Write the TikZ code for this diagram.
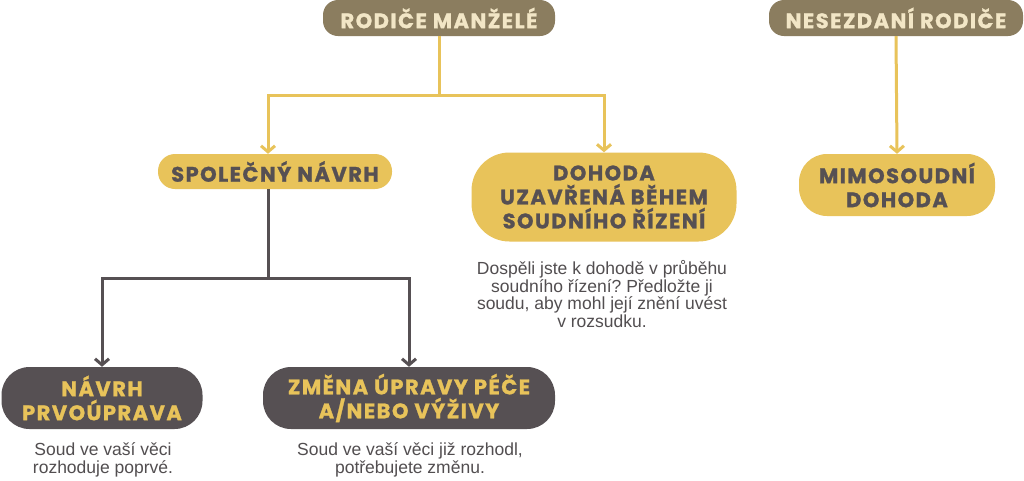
\documentclass[tikz,border=0pt]{standalone}
\usepackage{fontspec}
\setmainfont{Liberation Sans}
\newfontfamily\headfont[LetterSpace=7, BoldFeatures={FakeBold=1.2}]{Poppins}
\usetikzlibrary{arrows.meta,calc}
\frenchspacing
\definecolor{hdr}{RGB}{139,125,95}
\definecolor{cream}{RGB}{242,230,198}
\definecolor{gold}{RGB}{232,195,90}
\definecolor{dark}{RGB}{86,80,83}
\definecolor{txt}{RGB}{82,78,80}
\tikzset{
  boxbase/.style={inner sep=0pt, align=center, font=\headfont\bfseries\fontsize{21}{24}\selectfont},
  head/.style={boxbase, fill=hdr, text=cream, rounded corners=15pt},
  ybox/.style={boxbase, fill=gold, text=dark},
  dbox/.style={boxbase, fill=dark, text=gold, rounded corners=28pt},
  desc/.style={text=txt, align=center, font=\frenchspacing\fontsize{17.5}{17.5}\selectfont},
  ylink/.style={draw=gold, line width=3pt},
  dlink/.style={draw=dark, line width=3pt},
  tipped/.style={-{Straight Barb[length=6pt,width=14pt]}}
}
\begin{document}
\begin{tikzpicture}[x=1pt,y=-1pt]
\fill[white] (0,0) rectangle (1024,480);
\useasboundingbox (0,0) rectangle (1024,480);

\node[head, minimum width=232pt, minimum height=36pt] (rm) at (439,18) {RODIČE MANŽELÉ};
\node[head, minimum width=254pt, minimum height=36pt] (ns) at (896,18) {NESEZDANÍ RODIČE};

\node[ybox, rounded corners=17pt, minimum width=234pt, minimum height=35pt] (spol) at (275,171.5) {SPOLEČNÝ NÁVRH};
\node[ybox, rounded corners=38pt, minimum width=265pt, minimum height=89pt] (doh) at (604,197) {DOHODA\\UZAVŘENÁ BĚHEM\\SOUDNÍHO ŘÍZENÍ};
\node[ybox, rounded corners=28pt, minimum width=196pt, minimum height=62pt] (mim) at (897,185) {MIMOSOUDNÍ\\DOHODA};

\node[dbox, minimum width=201pt, minimum height=62pt] (nav) at (102,398) {NÁVRH\\PRVOÚPRAVA};
\node[dbox, minimum width=292pt, minimum height=62pt] (zm) at (409,398) {ZMĚNA ÚPRAVY PÉČE\\A/NEBO VÝŽIVY};

\node[desc] (d1) at (602,294) {Dospěli jste k dohodě v průběhu\\soudního řízení? Předložte ji\\soudu, aby mohl její znění uvést\\v rozsudku.};
\node[desc] (d2) at (103,460) {Soud ve vaší věci\\rozhoduje poprvé.};
\node[desc] (d3) at (410,460) {Soud ve vaší věci již rozhodl,\\potřebujete změnu.};

\coordinate (j1) at (439,95);
\coordinate (j2) at (268,278);

\draw[ylink] (rm.south) -- (j1);
\draw[ylink, tipped] (j1) -| ([xshift=-7pt]spol.north);
\draw[ylink, tipped] (j1) -| (doh.north);
\draw[ylink, tipped] (ns.south) -- (mim.north);

\draw[dlink] ([xshift=-7pt]spol.south) -- (j2);
\draw[dlink, tipped] (j2) -| (nav.north);
\draw[dlink, tipped] (j2) -| (zm.north);
\end{tikzpicture}
\end{document}
